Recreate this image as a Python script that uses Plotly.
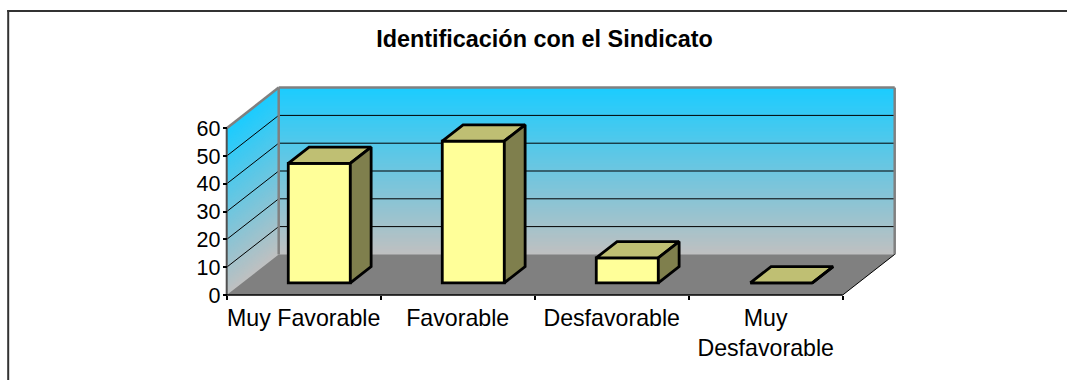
import plotly.graph_objects as go

categories = ["Muy Favorable", "Favorable", "Desfavorable", "Muy<br>Desfavorable"]
values = [43, 51, 9, 0]
y_ticks = [0, 10, 20, 30, 40, 50, 60]

W, H = 1067, 380
# pixel position of the chart origin and scale of the axes
X0, Y0 = 226.7, 295
CAT_W, UNIT = 154, 2.78
N = len(categories)
Y_MAX = y_ticks[-1]

# oblique depth of the floor, in axis units
DX = 52 / CAT_W
DY = 40.6 / UNIT

BAR_W = 0.403
D0, D1 = 0.3, 0.7  # bars sit between these fractions of the depth
EDGE = 2.8


def lerp_color(t):
    top, bottom = (28, 204, 255), (192, 192, 192)
    return "rgb(%d,%d,%d)" % tuple(round(a + (b - a) * t) for a, b in zip(top, bottom))


def poly(points):
    return "M" + " L".join("%.4f,%.4f" % p for p in points) + " Z"


def line_shape(x0, y0, x1, y1, color, width):
    return dict(type="line", xref="x", yref="y", x0=x0, y0=y0, x1=x1, y1=y1,
                line=dict(color=color, width=width), layer="below")


shapes = []

# walls, painted top to bottom so no seams show between the strips
steps = 120
for k in range(steps):
    v = Y_MAX * (1 - k / steps)
    c = lerp_color(k / steps)
    shapes.append(dict(type="path", xref="x", yref="y", layer="below", fillcolor=c, line_width=0,
                       path=poly([(DX, DY), (N + DX, DY), (N + DX, DY + v), (DX, DY + v)])))
    shapes.append(dict(type="path", xref="x", yref="y", layer="below", fillcolor=c, line_width=0,
                       path=poly([(0, 0), (DX, DY), (DX, DY + v), (0, v)])))

# floor
shapes.append(dict(type="path", xref="x", yref="y", layer="below", fillcolor="#808080", line_width=0,
                   path=poly([(0, 0), (N, 0), (N + DX, DY), (DX, DY)])))

# gridlines on both walls
for v in y_ticks[1:-1]:
    shapes.append(line_shape(0, v, DX, v + DY, "black", 1))
    shapes.append(line_shape(DX, v + DY, N + DX, v + DY, "black", 1))

# wall edges
for a, b in [((0, Y_MAX), (DX, Y_MAX + DY)), ((DX, Y_MAX + DY), (N + DX, Y_MAX + DY)),
             ((N + DX, Y_MAX + DY), (N + DX, DY)), ((DX, DY), (DX, Y_MAX + DY))]:
    shapes.append(line_shape(a[0], a[1], b[0], b[1], "#808080", 2.5))

# axis lines
shapes.append(line_shape(0, 0, 0, Y_MAX, "#505050", 2))
shapes.append(line_shape(0, 0, N, 0, "black", 1.5))
shapes.append(line_shape(N, 0, N + DX, DY, "black", 1))

# outer frame, open on the right and at the bottom
shapes.append(dict(type="line", xref="paper", yref="paper", x0=8.2 / W, x1=8.2 / W,
                   y0=0, y1=1 - 10 / H, line=dict(color="#333333", width=2)))
shapes.append(dict(type="line", xref="paper", yref="paper", x0=7.2 / W, x1=1,
                   y0=1 - 11 / H, y1=1 - 11 / H, line=dict(color="#333333", width=2)))

# front faces
front_x = [i + 0.5 + D0 * DX for i in range(N)]
front_base = [D0 * DY] * N

# top and side faces follow from the same values
top_x, top_y, side_x, side_y = [], [], [], []
depth_x = (D1 - D0) * DX
depth_y = (D1 - D0) * DY
for xc, base, v in zip(front_x, front_base, values):
    l, r = xc - BAR_W / 2, xc + BAR_W / 2
    t = base + v
    top_x += [l, r, r + depth_x, l + depth_x, l, None]
    top_y += [t, t, t + depth_y, t + depth_y, t, None]
    side_x += [r, r + depth_x, r + depth_x, r, r, None]
    side_y += [base, base + depth_y, t + depth_y, t, base, None]

fig = go.Figure()
fig.add_trace(go.Bar(
    x=front_x,
    y=values,
    base=front_base,
    width=BAR_W,
    marker=dict(color="#FFFF99", line=dict(color="black", width=EDGE)),
))
fig.add_trace(go.Scatter(x=top_x, y=top_y, mode="lines", fill="toself", fillcolor="#BFBF73",
                         line=dict(color="black", width=EDGE)))
fig.add_trace(go.Scatter(x=side_x, y=side_y, mode="lines", fill="toself", fillcolor="#7F7F4D",
                         line=dict(color="black", width=EDGE)))

fig.update_layout(
    width=W,
    height=H,
    margin=dict(l=0, r=0, t=0, b=0),
    paper_bgcolor="white",
    plot_bgcolor="white",
    showlegend=False,
    font=dict(family="Liberation Sans", color="black"),
    title=dict(text="<b>Identificación con el Sindicato</b>", x=544.5 / W, xanchor="center",
               y=1 - 39 / H, yanchor="middle", font=dict(size=23.4, color="black")),
    shapes=shapes,
    xaxis=dict(
        range=[-X0 / CAT_W, (W - X0) / CAT_W],
        domain=[0, 1],
        anchor="free",
        position=(H - Y0) / H,
        showgrid=False,
        zeroline=False,
        showline=False,
        tickmode="array",
        tickvals=[i + 0.5 for i in range(N)],
        ticktext=categories,
        tickangle=0,
        ticks="outside",
        ticklen=2,
        tickcolor="rgba(0,0,0,0)",
        tickfont=dict(size=23.2),
        minor=dict(tickmode="array", tickvals=list(range(N + 1)), ticks="outside", ticklen=4,
                   tickcolor="black", tickwidth=1.5, showgrid=False),
    ),
    yaxis=dict(
        range=[(Y0 - H) / UNIT, Y0 / UNIT],
        domain=[0, 1],
        anchor="free",
        position=X0 / W,
        showgrid=False,
        zeroline=False,
        showline=False,
        tickmode="array",
        tickvals=y_ticks,
        ticks="outside",
        ticklen=4,
        tickcolor="black",
        tickwidth=1.5,
        tickfont=dict(size=21.5),
        ticklabelstandoff=-2,
    ),
)

# the page's default body margin would push the figure 8px off
fig.write_html("out.html", config=dict(displayModeBar=False),
               post_script="document.body.style.margin='0';document.body.style.overflow='hidden';")
